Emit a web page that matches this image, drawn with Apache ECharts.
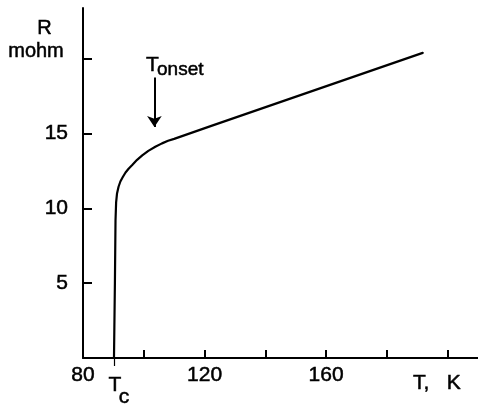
<!DOCTYPE html>
<html>
<head>
<meta charset="utf-8">
<script src="https://cdn.jsdelivr.net/npm/echarts@6/dist/echarts.min.js"></script>
<style>html,body{margin:0;padding:0;background:#fff;}#c{width:478px;height:406px;}</style>
</head>
<body>
<div id="c"></div>
<script>
// Temperature (K) and resistance (mohm)
const temperature = [90.2, 90.5, 90.7, 90.9, 91.2, 91.7, 92.3, 93.1, 94.0, 95.0, 96.2, 97.8, 99.5, 101.5, 103.8, 106.0, 108.0, 110.0, 122.0, 191.8];
const resistance  = [0,    5.0,  9.2,  10.4, 11.0, 11.45, 11.8, 12.1, 12.4, 12.65, 12.9, 13.25, 13.55, 13.85, 14.12, 14.35, 14.52, 14.65, 15.5, 20.4];
const xTickValues = [100, 120, 140, 160, 180, 200];
const xLabelValues = [80, 120, 160];
const yTickValues = [5, 10, 15, 20];
const yLabelValues = [5, 10, 15];
const tcValue = 90.4;
const onsetArrow = [[103.5, 18.75], [103.5, 15.45]];

const FONT = '"Liberation Sans", Arial, sans-serif';
const chart = echarts.init(document.getElementById('c'), null, {renderer: 'canvas'});
const data = temperature.map((t, i) => [t, resistance[i]]);
const txt = (text, x, y, size, align) => ({
  type: 'text', x: x, y: y,
  style: {text: text, font: size + 'px ' + FONT, fill: '#000', stroke: '#000', lineWidth: 0.5,
          align: align, verticalAlign: 'middle'}
});

chart.setOption({
  animation: false,
  backgroundColor: '#fff',
  grid: {left: 83, top: 8, width: 395, bottom: 406 - 358, containLabel: false},
  xAxis: [{
    type: 'value', min: 80, max: 210,
    axisLine: {show: true, onZero: false, lineStyle: {color: '#000', width: 2}},
    axisTick: {show: true, inside: true, length: 8, customValues: xTickValues, lineStyle: {color: '#000', width: 2}},
    axisLabel: {show: true, customValues: xLabelValues, margin: 7, color: '#000', fontSize: 21, fontFamily: FONT,
                textBorderColor: '#000', textBorderWidth: 0.5},
    splitLine: {show: false}
  }, {
    type: 'value', min: 80, max: 210, position: 'bottom', gridIndex: 0,
    axisLine: {show: false},
    axisTick: {show: true, inside: false, length: 8, customValues: [tcValue], lineStyle: {color: '#000', width: 1.2}},
    axisLabel: {show: false},
    splitLine: {show: false}
  }],
  yAxis: {
    type: 'value', min: 0, max: 23.4,
    axisLine: {show: true, onZero: false, lineStyle: {color: '#000', width: 2}},
    axisTick: {show: true, inside: true, length: 9, customValues: yTickValues, lineStyle: {color: '#000', width: 2}},
    axisLabel: {show: true, customValues: yLabelValues, margin: 15, color: '#000', fontSize: 21, fontFamily: FONT,
                textBorderColor: '#000', textBorderWidth: 0.5},
    splitLine: {show: false}
  },
  series: [{
    type: 'line',
    data: data,
    showSymbol: false,
    smooth: false,
    lineStyle: {color: '#000', width: 2.2, cap: 'round', join: 'round'},
    markLine: {
      silent: true,
      symbol: ['none', 'arrow'],
      symbolSize: 11,
      label: {show: false},
      lineStyle: {color: '#000', width: 2, type: 'solid'},
      data: [[{coord: onsetArrow[0]}, {coord: onsetArrow[1]}]]
    }
  }],
  graphic: [
    txt('R', 44.5, 28, 20, 'center'),
    txt('mohm', 36, 51, 20, 'center'),
    txt('T', 152.5, 65, 21, 'center'),
    txt('onset', 157, 70, 19, 'left'),
    txt('T', 115, 385.5, 21, 'center'),
    txt('c', 124, 397, 21, 'center'),
    txt('T,   K', 413, 383, 21, 'left')
  ]
});
</script>
</body>
</html>
